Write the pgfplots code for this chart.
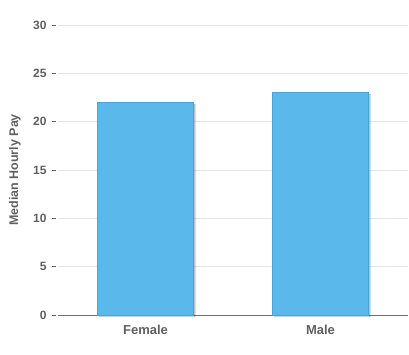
\documentclass[border=0pt]{standalone}
\usepackage{pgfplots}
\pgfplotsset{compat=1.18}
\usepackage{fontspec}
\setmainfont{Liberation Sans}
\usetikzlibrary{shadows}
\definecolor{barblue}{RGB}{90,185,234}
\definecolor{baredge}{RGB}{72,165,215}
\definecolor{txtgray}{RGB}{96,96,96}
\definecolor{gridgray}{RGB}{228,228,228}
\definecolor{axisgray}{RGB}{110,110,110}
\begin{document}
\begin{tikzpicture}
\path[use as bounding box] (-58pt,-40pt) rectangle (351pt,315pt);
\begin{axis}[
  at={(0,0)}, anchor=south west,
  scale only axis, width=350pt, height=290pt,
  xmin=-0.5, xmax=1.5, ymin=0, ymax=30,
  axis y line*=left, axis x line*=bottom,
  y axis line style={draw=none},
  x axis line style={draw=axisgray, line width=0.8pt},
  xtick={0,1}, xticklabels={Female,Male},
  x tick style={draw=none},
  extra x ticks={-0.5,0.5,1.5}, extra x tick labels={},
  extra x tick style={major tick length=4pt, tick align=outside, tick style={draw=axisgray, line width=0.6pt}, grid=none},
  ytick={0,5,10,15,20,25,30},
  ymajorgrids, grid style={draw=gridgray, line width=0.6pt},
  major tick length=4pt, tick align=outside,
  y tick style={draw=txtgray, line width=0.6pt, xshift=-2pt},
  yticklabel style={font=\bfseries\fontsize{12}{13}\selectfont, text=txtgray, xshift=-4pt},
  xticklabel style={font=\bfseries\fontsize{13}{14}\selectfont, text=txtgray, yshift=-2.5pt},
  ylabel={Median Hourly Pay},
  ylabel style={font=\bfseries\fontsize{12.5}{13}\selectfont, text=txtgray, at={(axis description cs:-0.123,0.5)}, anchor=center},
  /pgf/number format/assume math mode=true,
  clip=false,
]
\addplot[ybar, bar width=0.55, fill=barblue, draw=baredge, line width=0.6pt,
  drop shadow={shadow xshift=1.5pt, shadow yshift=-1.5pt, opacity=0.25, fill=black}]
  coordinates {(0,22) (1,23)};
\end{axis}
\end{tikzpicture}
\end{document}
